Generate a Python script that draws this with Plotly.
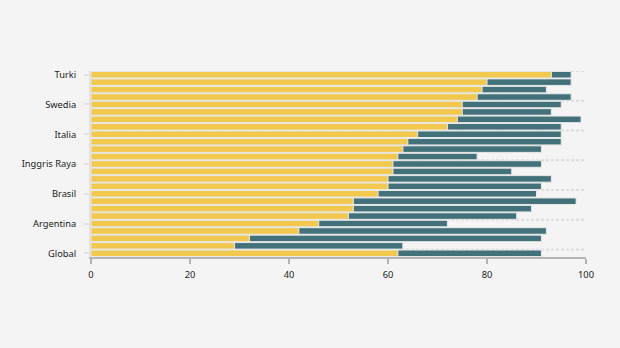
import plotly.graph_objects as go

# Data (rows listed top to bottom)
row_index = list(range(25))
first_values = [93, 80, 79, 78, 75, 75, 74, 72, 66, 64, 63, 62, 61, 61, 60, 60, 58, 53, 53, 52, 46, 42, 32, 29, 62]
total_values = [97, 97, 92, 97, 95, 93, 99, 95, 95, 95, 91, 78, 91, 85, 93, 91, 90, 98, 89, 86, 72, 92, 91, 63, 91]
tick_rows = [0, 4, 8, 12, 16, 20, 24]
tick_labels = ["Turki", "Swedia", "Italia", "Inggris Raya", "Brasil", "Argentina", "Global"]
x_ticks = [0, 20, 40, 60, 80, 100]

YELLOW = "#F2C84F"
TEAL = "#42717A"
BG = "#F4F4F4"
BORDER = "#E9E9E9"

fig = go.Figure()
fig.add_trace(go.Bar(
    y=row_index, x=total_values, orientation="h", width=0.88,
    marker=dict(color=TEAL, line=dict(color=BORDER, width=1)),
    showlegend=False,
))
fig.add_trace(go.Bar(
    y=row_index, x=first_values, orientation="h", width=0.88,
    marker=dict(color=YELLOW, line=dict(color=BORDER, width=1)),
    showlegend=False,
))

# dashed separators at the upper boundary of each labelled row
for r in tick_rows:
    fig.add_shape(type="line", xref="paper", x0=0, x1=1, yref="y", y0=r - 0.5, y1=r - 0.5,
                  layer="below", line=dict(color="#DCDCDC", width=2, dash="3px,2px"))

fig.update_layout(
    barmode="overlay",
    width=620, height=348,
    margin=dict(l=91, r=34, t=71, b=91),
    paper_bgcolor=BG, plot_bgcolor=BG,
    font=dict(family="Noto Sans, DejaVu Sans, sans-serif", size=9.3, color="#222222"),
    xaxis=dict(
        range=[0, 100], tickvals=x_ticks, showgrid=False, zeroline=False,
        showline=True, linecolor="#B4B4B4", linewidth=2,
        ticks="outside", ticklen=5, tickwidth=2, tickcolor="#B4B4B4",
        ticklabelstandoff=3,
        fixedrange=True,
    ),
    yaxis=dict(
        range=[24.5, -0.5], tickvals=tick_rows, ticktext=tick_labels,
        showgrid=False, zeroline=False,
        showline=True, linecolor="#E2E2E2", linewidth=2,
        ticks="outside", ticklen=5, tickwidth=2, tickcolor="#E2E2E2",
        ticklabelstandoff=6,
        fixedrange=True,
    ),
)

fig.write_html("out.html")
